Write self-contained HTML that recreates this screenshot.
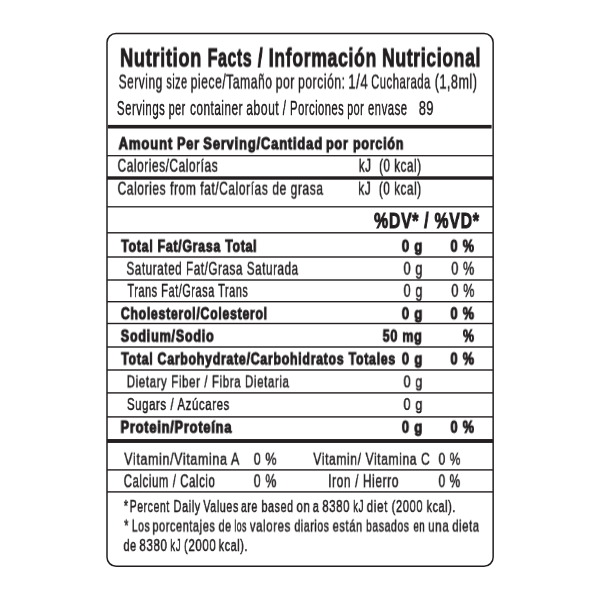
<!DOCTYPE html>
<html><head><meta charset="utf-8"><style>
html,body{margin:0;padding:0;background:#fff;}
body{width:600px;height:600px;position:relative;overflow:hidden;}
.t{position:absolute;left:0;top:0;will-change:transform;white-space:pre;font-family:"Liberation Sans",sans-serif;color:#231f20;transform-origin:0 0;}
.r{position:absolute;background:#231f20;}
span.m{display:inline-block;width:0;height:0;}
#box{position:absolute;border:1.5px solid #231f20;border-radius:10px;box-sizing:border-box;}
</style></head><body>
<svg id="lines" width="600" height="600" viewBox="0 0 600 600" style="position:absolute;left:0;top:0"><rect x="107.00" y="33.50" width="386.15" height="532.75" rx="9.0" ry="9.0" fill="none" stroke="#231f20" stroke-width="1.50"/><rect x="107.80" y="124.90" width="383.80" height="3.60" fill="#231f20"/><rect x="107.00" y="155.05" width="386.00" height="1.30" fill="#231f20"/><rect x="107.00" y="176.30" width="386.00" height="3.40" fill="#231f20"/><rect x="107.00" y="206.15" width="386.00" height="1.30" fill="#231f20"/><rect x="107.00" y="232.10" width="386.00" height="1.40" fill="#231f20"/><rect x="107.00" y="256.30" width="386.00" height="1.40" fill="#231f20"/><rect x="107.00" y="279.30" width="386.00" height="1.40" fill="#231f20"/><rect x="107.00" y="301.00" width="386.00" height="1.40" fill="#231f20"/><rect x="107.00" y="322.80" width="386.00" height="1.40" fill="#231f20"/><rect x="107.00" y="346.30" width="386.00" height="1.40" fill="#231f20"/><rect x="107.00" y="369.30" width="386.00" height="1.40" fill="#231f20"/><rect x="107.00" y="392.20" width="386.00" height="1.40" fill="#231f20"/><rect x="107.00" y="416.20" width="386.00" height="1.40" fill="#231f20"/><rect x="107.00" y="439.05" width="386.00" height="3.90" fill="#231f20"/><rect x="107.00" y="469.20" width="386.00" height="1.40" fill="#231f20"/><rect x="107.00" y="491.20" width="386.00" height="1.40" fill="#231f20"/></svg>
<div class="t" id="t1_0" style="font-size:26.309px;line-height:26.309px;font-weight:700;transform:translate(120.05px,44.55px) scaleX(0.6911);letter-spacing:1.000px;-webkit-text-stroke:1.00px #231f20;">Nutrition</div>
<div class="t" id="t1_1" style="font-size:26.309px;line-height:26.309px;font-weight:700;transform:translate(207.70px,44.55px) scaleX(0.6053);letter-spacing:1.000px;-webkit-text-stroke:1.00px #231f20;">Facts</div>
<div class="t" id="t1_2" style="font-size:26.309px;line-height:26.309px;font-weight:700;transform:translate(257.74px,44.55px) scaleX(0.6785);letter-spacing:1.000px;-webkit-text-stroke:1.00px #231f20;">/</div>
<div class="t" id="t1_3" style="font-size:26.309px;line-height:26.309px;font-weight:700;transform:translate(268.74px,44.55px) scaleX(0.6699);letter-spacing:1.000px;-webkit-text-stroke:1.00px #231f20;">Información</div>
<div class="t" id="t1_4" style="font-size:26.309px;line-height:26.309px;font-weight:700;transform:translate(382.05px,44.55px) scaleX(0.6675);letter-spacing:1.000px;-webkit-text-stroke:1.00px #231f20;">Nutricional</div>
<div class="t" id="t2_0" style="font-size:20.495px;line-height:20.495px;font-weight:400;transform:translate(118.68px,71.55px) scaleX(0.5812);letter-spacing:0.900px;-webkit-text-stroke:0.50px #231f20;">Serving</div>
<div class="t" id="t2_1" style="font-size:20.495px;line-height:20.495px;font-weight:400;transform:translate(166.34px,71.55px) scaleX(0.5299);letter-spacing:0.900px;-webkit-text-stroke:0.50px #231f20;">size</div>
<div class="t" id="t2_2" style="font-size:20.495px;line-height:20.495px;font-weight:400;transform:translate(190.68px,71.55px) scaleX(0.5916);letter-spacing:0.900px;-webkit-text-stroke:0.50px #231f20;">piece/Tamaño</div>
<div class="t" id="t2_3" style="font-size:20.495px;line-height:20.495px;font-weight:400;transform:translate(275.68px,71.55px) scaleX(0.5983);letter-spacing:0.900px;-webkit-text-stroke:0.50px #231f20;">por</div>
<div class="t" id="t2_4" style="font-size:20.495px;line-height:20.495px;font-weight:400;transform:translate(297.99px,71.55px) scaleX(0.5927);letter-spacing:0.900px;-webkit-text-stroke:0.50px #231f20;">porción:</div>
<div class="t" id="t2_5" style="font-size:20.495px;line-height:20.495px;font-weight:400;transform:translate(348.17px,71.55px) scaleX(0.6454);letter-spacing:0.900px;-webkit-text-stroke:0.50px #231f20;">1/4</div>
<div class="t" id="t2_6" style="font-size:20.495px;line-height:20.495px;font-weight:400;transform:translate(371.09px,71.55px) scaleX(0.5510);letter-spacing:0.900px;-webkit-text-stroke:0.50px #231f20;">Cucharada</div>
<div class="t" id="t2_7" style="font-size:20.495px;line-height:20.495px;font-weight:400;transform:translate(434.75px,71.55px) scaleX(0.6116);letter-spacing:0.900px;-webkit-text-stroke:0.50px #231f20;">(1,8ml)</div>
<div class="t" id="t3_0" style="font-size:21.003px;line-height:21.003px;font-weight:400;transform:translate(116.92px,97.00px) scaleX(0.5444);letter-spacing:0.900px;-webkit-text-stroke:0.50px #231f20;">Servings</div>
<div class="t" id="t3_1" style="font-size:21.003px;line-height:21.003px;font-weight:400;transform:translate(168.72px,97.00px) scaleX(0.5122);letter-spacing:0.900px;-webkit-text-stroke:0.50px #231f20;">per</div>
<div class="t" id="t3_2" style="font-size:21.003px;line-height:21.003px;font-weight:400;transform:translate(190.00px,97.00px) scaleX(0.5615);letter-spacing:0.900px;-webkit-text-stroke:0.50px #231f20;">container</div>
<div class="t" id="t3_3" style="font-size:21.003px;line-height:21.003px;font-weight:400;transform:translate(246.19px,97.00px) scaleX(0.5792);letter-spacing:0.900px;-webkit-text-stroke:0.50px #231f20;">about</div>
<div class="t" id="t3_4" style="font-size:21.003px;line-height:21.003px;font-weight:400;transform:translate(282.67px,97.00px) scaleX(0.5599);letter-spacing:0.900px;-webkit-text-stroke:0.50px #231f20;">/</div>
<div class="t" id="t3_5" style="font-size:21.003px;line-height:21.003px;font-weight:400;transform:translate(290.06px,97.00px) scaleX(0.5337);letter-spacing:0.900px;-webkit-text-stroke:0.50px #231f20;">Porciones</div>
<div class="t" id="t3_6" style="font-size:21.003px;line-height:21.003px;font-weight:400;transform:translate(347.15px,97.00px) scaleX(0.5143);letter-spacing:0.900px;-webkit-text-stroke:0.50px #231f20;">por</div>
<div class="t" id="t3_7" style="font-size:21.003px;line-height:21.003px;font-weight:400;transform:translate(367.93px,97.00px) scaleX(0.5419);letter-spacing:0.900px;-webkit-text-stroke:0.50px #231f20;">envase</div>
<div class="t" id="t3b" style="font-size:21.003px;line-height:21.003px;font-weight:400;transform:translate(418.84px,97.00px) scaleX(0.6007);letter-spacing:0.900px;-webkit-text-stroke:0.50px #231f20;">89</div>
<div class="t" id="t4_0" style="font-size:16.352px;line-height:16.352px;font-weight:700;transform:translate(118.59px,135.25px) scaleX(0.8043);letter-spacing:1.000px;-webkit-text-stroke:1.00px #231f20;">Amount</div>
<div class="t" id="t4_1" style="font-size:16.352px;line-height:16.352px;font-weight:700;transform:translate(176.99px,135.25px) scaleX(0.7754);letter-spacing:1.000px;-webkit-text-stroke:1.00px #231f20;">Per</div>
<div class="t" id="t4_2" style="font-size:16.352px;line-height:16.352px;font-weight:700;transform:translate(203.22px,135.25px) scaleX(0.7958);letter-spacing:1.000px;-webkit-text-stroke:1.00px #231f20;">Serving/Cantidad</div>
<div class="t" id="t4_3" style="font-size:16.352px;line-height:16.352px;font-weight:700;transform:translate(325.93px,135.25px) scaleX(0.7717);letter-spacing:1.000px;-webkit-text-stroke:1.00px #231f20;">por</div>
<div class="t" id="t4_4" style="font-size:16.352px;line-height:16.352px;font-weight:700;transform:translate(352.94px,135.25px) scaleX(0.7641);letter-spacing:1.000px;-webkit-text-stroke:1.00px #231f20;">porción</div>
<div class="t" id="t5" style="font-size:17.733px;line-height:17.733px;font-weight:400;transform:translate(117.63px,157.75px) scaleX(0.6647);letter-spacing:0.900px;-webkit-text-stroke:0.50px #231f20;">Calories/Calorías</div>
<div class="t" id="t5b" style="font-size:17.733px;line-height:17.733px;font-weight:400;transform:translate(358.80px,157.75px) scaleX(0.6508);letter-spacing:0.900px;-webkit-text-stroke:0.50px #231f20;">kJ  (0 kcal)</div>
<div class="t" id="t6" style="font-size:17.588px;line-height:17.588px;font-weight:400;transform:translate(117.65px,180.65px) scaleX(0.6770);letter-spacing:0.900px;-webkit-text-stroke:0.50px #231f20;">Calories from fat/Calorías de grasa</div>
<div class="t" id="t6b" style="font-size:17.588px;line-height:17.588px;font-weight:400;transform:translate(358.34px,180.65px) scaleX(0.6616);letter-spacing:0.900px;-webkit-text-stroke:0.50px #231f20;">kJ  (0 kcal)</div>
<div class="t" id="t7" style="font-size:22.457px;line-height:22.457px;font-weight:700;transform:translate(374.07px,209.95px) scaleX(0.7063);letter-spacing:1.000px;-webkit-text-stroke:1.00px #231f20;">%DV* / %VD*</div>
<div class="t" id="r1" style="font-size:16.788px;line-height:16.788px;font-weight:700;transform:translate(121.24px,238.70px) scaleX(0.7344);letter-spacing:1.000px;-webkit-text-stroke:1.00px #231f20;">Total Fat/Grasa Total</div>
<div class="t" id="r1g" style="font-size:16.788px;line-height:16.788px;font-weight:700;transform:translate(401.76px,238.70px) scaleX(0.7844);letter-spacing:1.000px;-webkit-text-stroke:1.00px #231f20;">0 g</div>
<div class="t" id="r1p" style="font-size:16.788px;line-height:16.788px;font-weight:700;transform:translate(450.50px,238.70px) scaleX(0.7598);letter-spacing:1.000px;-webkit-text-stroke:1.00px #231f20;">0 %</div>
<div class="t" id="r2" style="font-size:17.951px;line-height:17.951px;font-weight:400;transform:translate(126.46px,260.75px) scaleX(0.6487);letter-spacing:0.900px;-webkit-text-stroke:0.50px #231f20;">Saturated Fat/Grasa Saturada</div>
<div class="t" id="r2g" style="font-size:17.951px;line-height:17.951px;font-weight:400;transform:translate(403.57px,260.75px) scaleX(0.7018);letter-spacing:0.900px;-webkit-text-stroke:0.50px #231f20;">0 g</div>
<div class="t" id="r2p" style="font-size:17.951px;line-height:17.951px;font-weight:400;transform:translate(451.31px,260.75px) scaleX(0.6993);letter-spacing:0.900px;-webkit-text-stroke:0.50px #231f20;">0 %</div>
<div class="t" id="r3" style="font-size:17.588px;line-height:17.588px;font-weight:400;transform:translate(127.44px,282.85px) scaleX(0.6200);letter-spacing:0.900px;-webkit-text-stroke:0.50px #231f20;">Trans Fat/Grasa Trans</div>
<div class="t" id="r3g" style="font-size:17.588px;line-height:17.588px;font-weight:400;transform:translate(403.59px,282.85px) scaleX(0.7161);letter-spacing:0.900px;-webkit-text-stroke:0.50px #231f20;">0 g</div>
<div class="t" id="r3p" style="font-size:17.588px;line-height:17.588px;font-weight:400;transform:translate(451.34px,282.85px) scaleX(0.7155);letter-spacing:0.900px;-webkit-text-stroke:0.50px #231f20;">0 %</div>
<div class="t" id="r4" style="font-size:16.497px;line-height:16.497px;font-weight:700;transform:translate(120.79px,305.25px) scaleX(0.7431);letter-spacing:1.000px;-webkit-text-stroke:1.00px #231f20;">Cholesterol/Colesterol</div>
<div class="t" id="r4g" style="font-size:16.497px;line-height:16.497px;font-weight:700;transform:translate(401.76px,305.25px) scaleX(0.7961);letter-spacing:1.000px;-webkit-text-stroke:1.00px #231f20;">0 g</div>
<div class="t" id="r4p" style="font-size:16.497px;line-height:16.497px;font-weight:700;transform:translate(450.46px,305.25px) scaleX(0.7737);letter-spacing:1.000px;-webkit-text-stroke:1.00px #231f20;">0 %</div>
<div class="t" id="r5" style="font-size:16.715px;line-height:16.715px;font-weight:700;transform:translate(120.69px,328.60px) scaleX(0.7547);letter-spacing:1.000px;-webkit-text-stroke:1.00px #231f20;">Sodium/Sodio</div>
<div class="t" id="r5g" style="font-size:16.715px;line-height:16.715px;font-weight:700;transform:translate(382.67px,328.60px) scaleX(0.7478);letter-spacing:1.000px;-webkit-text-stroke:1.00px #231f20;">50 mg</div>
<div class="t" id="r5p" style="font-size:16.715px;line-height:16.715px;font-weight:700;transform:translate(462.92px,328.60px) scaleX(0.7480);letter-spacing:1.000px;-webkit-text-stroke:1.00px #231f20;">%</div>
<div class="t" id="r6" style="font-size:16.352px;line-height:16.352px;font-weight:700;transform:translate(121.23px,350.50px) scaleX(0.7518);letter-spacing:1.000px;-webkit-text-stroke:1.00px #231f20;">Total Carbohydrate/Carbohidratos Totales</div>
<div class="t" id="r6g" style="font-size:16.352px;line-height:16.352px;font-weight:700;transform:translate(401.80px,350.50px) scaleX(0.7947);letter-spacing:1.000px;-webkit-text-stroke:1.00px #231f20;">0 g</div>
<div class="t" id="r6p" style="font-size:16.352px;line-height:16.352px;font-weight:700;transform:translate(450.46px,350.50px) scaleX(0.7766);letter-spacing:1.000px;-webkit-text-stroke:1.00px #231f20;">0 %</div>
<div class="t" id="r7" style="font-size:16.497px;line-height:16.497px;font-weight:400;transform:translate(126.76px,373.35px) scaleX(0.6955);letter-spacing:0.900px;-webkit-text-stroke:0.50px #231f20;">Dietary Fiber / Fibra Dietaria</div>
<div class="t" id="r7g" style="font-size:16.497px;line-height:16.497px;font-weight:400;transform:translate(403.56px,373.35px) scaleX(0.7606);letter-spacing:0.900px;-webkit-text-stroke:0.50px #231f20;">0 g</div>
<div class="t" id="r8" style="font-size:16.715px;line-height:16.715px;font-weight:400;transform:translate(126.94px,397.00px) scaleX(0.6824);letter-spacing:0.900px;-webkit-text-stroke:0.50px #231f20;">Sugars / Azúcares</div>
<div class="t" id="r8g" style="font-size:16.715px;line-height:16.715px;font-weight:400;transform:translate(403.51px,397.00px) scaleX(0.7542);letter-spacing:0.900px;-webkit-text-stroke:0.50px #231f20;">0 g</div>
<div class="t" id="r9" style="font-size:15.625px;line-height:15.625px;font-weight:700;transform:translate(120.53px,419.75px) scaleX(0.8176);letter-spacing:1.000px;-webkit-text-stroke:1.00px #231f20;">Protein/Proteína</div>
<div class="t" id="r9g" style="font-size:15.625px;line-height:15.625px;font-weight:700;transform:translate(401.83px,419.75px) scaleX(0.8295);letter-spacing:1.000px;-webkit-text-stroke:1.00px #231f20;">0 g</div>
<div class="t" id="r9p" style="font-size:15.625px;line-height:15.625px;font-weight:700;transform:translate(450.51px,419.75px) scaleX(0.8126);letter-spacing:1.000px;-webkit-text-stroke:1.00px #231f20;">0 %</div>
<div class="t" id="v1" style="font-size:17.079px;line-height:17.079px;font-weight:400;transform:translate(124.20px,450.75px) scaleX(0.7288);letter-spacing:0.900px;-webkit-text-stroke:0.50px #231f20;">Vitamin/Vitamina A</div>
<div class="t" id="v1p" style="font-size:17.079px;line-height:17.079px;font-weight:400;transform:translate(253.73px,450.75px) scaleX(0.7292);letter-spacing:0.900px;-webkit-text-stroke:0.50px #231f20;">0 %</div>
<div class="t" id="v2" style="font-size:17.079px;line-height:17.079px;font-weight:400;transform:translate(313.32px,450.75px) scaleX(0.7038);letter-spacing:0.900px;-webkit-text-stroke:0.50px #231f20;">Vitamin/ Vitamina C</div>
<div class="t" id="v2p" style="font-size:17.079px;line-height:17.079px;font-weight:400;transform:translate(438.56px,450.75px) scaleX(0.6981);letter-spacing:0.900px;-webkit-text-stroke:0.50px #231f20;">0 %</div>
<div class="t" id="v3" style="font-size:17.442px;line-height:17.442px;font-weight:400;transform:translate(123.76px,473.25px) scaleX(0.6528);letter-spacing:0.900px;-webkit-text-stroke:0.50px #231f20;">Calcium / Calcio</div>
<div class="t" id="v3p" style="font-size:17.442px;line-height:17.442px;font-weight:400;transform:translate(253.74px,473.25px) scaleX(0.7097);letter-spacing:0.900px;-webkit-text-stroke:0.50px #231f20;">0 %</div>
<div class="t" id="v4" style="font-size:17.442px;line-height:17.442px;font-weight:400;transform:translate(328.14px,473.25px) scaleX(0.6823);letter-spacing:0.900px;-webkit-text-stroke:0.50px #231f20;">Iron / Hierro</div>
<div class="t" id="v4p" style="font-size:17.442px;line-height:17.442px;font-weight:400;transform:translate(438.55px,473.25px) scaleX(0.6791);letter-spacing:0.900px;-webkit-text-stroke:0.50px #231f20;">0 %</div>
<div class="t" id="f1_0" style="font-size:15.989px;line-height:15.989px;font-weight:400;transform:translate(123.80px,499.05px) scaleX(0.6878);letter-spacing:0.900px;-webkit-text-stroke:0.50px #231f20;">*</div>
<div class="t" id="f1_1" style="font-size:15.989px;line-height:15.989px;font-weight:400;transform:translate(129.71px,499.05px) scaleX(0.6532);letter-spacing:0.900px;-webkit-text-stroke:0.50px #231f20;">Percent</div>
<div class="t" id="f1_2" style="font-size:15.989px;line-height:15.989px;font-weight:400;transform:translate(173.53px,499.05px) scaleX(0.6839);letter-spacing:0.900px;-webkit-text-stroke:0.50px #231f20;">Daily</div>
<div class="t" id="f1_3" style="font-size:15.989px;line-height:15.989px;font-weight:400;transform:translate(203.33px,499.05px) scaleX(0.6704);letter-spacing:0.900px;-webkit-text-stroke:0.50px #231f20;">Values</div>
<div class="t" id="f1_4" style="font-size:15.989px;line-height:15.989px;font-weight:400;transform:translate(240.97px,499.05px) scaleX(0.6534);letter-spacing:0.900px;-webkit-text-stroke:0.50px #231f20;">are</div>
<div class="t" id="f1_5" style="font-size:15.989px;line-height:15.989px;font-weight:400;transform:translate(261.52px,499.05px) scaleX(0.6686);letter-spacing:0.900px;-webkit-text-stroke:0.50px #231f20;">based</div>
<div class="t" id="f1_6" style="font-size:15.989px;line-height:15.989px;font-weight:400;transform:translate(296.51px,499.05px) scaleX(0.7122);letter-spacing:0.900px;-webkit-text-stroke:0.50px #231f20;">on</div>
<div class="t" id="f1_7" style="font-size:15.989px;line-height:15.989px;font-weight:400;transform:translate(312.74px,499.05px) scaleX(0.6878);letter-spacing:0.900px;-webkit-text-stroke:0.50px #231f20;">a</div>
<div class="t" id="f1_8" style="font-size:15.989px;line-height:15.989px;font-weight:400;transform:translate(322.28px,499.05px) scaleX(0.7121);letter-spacing:0.900px;-webkit-text-stroke:0.50px #231f20;">8380</div>
<div class="t" id="f1_9" style="font-size:15.989px;line-height:15.989px;font-weight:400;transform:translate(353.11px,499.05px) scaleX(0.6055);letter-spacing:0.900px;-webkit-text-stroke:0.50px #231f20;">kJ</div>
<div class="t" id="f1_10" style="font-size:15.989px;line-height:15.989px;font-weight:400;transform:translate(366.69px,499.05px) scaleX(0.7253);letter-spacing:0.900px;-webkit-text-stroke:0.50px #231f20;">diet</div>
<div class="t" id="f1_11" style="font-size:15.989px;line-height:15.989px;font-weight:400;transform:translate(391.62px,499.05px) scaleX(0.6965);letter-spacing:0.900px;-webkit-text-stroke:0.50px #231f20;">(2000</div>
<div class="t" id="f1_12" style="font-size:15.989px;line-height:15.989px;font-weight:400;transform:translate(426.62px,499.05px) scaleX(0.6709);letter-spacing:0.900px;-webkit-text-stroke:0.50px #231f20;">kcal).</div>
<div class="t" id="f2_0" style="font-size:15.698px;line-height:15.698px;font-weight:400;transform:translate(124.15px,518.55px) scaleX(0.6981);letter-spacing:0.900px;-webkit-text-stroke:0.50px #231f20;">*</div>
<div class="t" id="f2_1" style="font-size:15.698px;line-height:15.698px;font-weight:400;transform:translate(131.82px,518.55px) scaleX(0.6606);letter-spacing:0.900px;-webkit-text-stroke:0.50px #231f20;">Los</div>
<div class="t" id="f2_2" style="font-size:15.698px;line-height:15.698px;font-weight:400;transform:translate(152.48px,518.55px) scaleX(0.6914);letter-spacing:0.900px;-webkit-text-stroke:0.50px #231f20;">porcentajes</div>
<div class="t" id="f2_3" style="font-size:15.698px;line-height:15.698px;font-weight:400;transform:translate(218.59px,518.55px) scaleX(0.6867);letter-spacing:0.900px;-webkit-text-stroke:0.50px #231f20;">de</div>
<div class="t" id="f2_4" style="font-size:15.698px;line-height:15.698px;font-weight:400;transform:translate(234.24px,518.55px) scaleX(0.5546);letter-spacing:0.900px;-webkit-text-stroke:0.50px #231f20;">los</div>
<div class="t" id="f2_5" style="font-size:15.698px;line-height:15.698px;font-weight:400;transform:translate(249.84px,518.55px) scaleX(0.7213);letter-spacing:0.900px;-webkit-text-stroke:0.50px #231f20;">valores</div>
<div class="t" id="f2_6" style="font-size:15.698px;line-height:15.698px;font-weight:400;transform:translate(294.44px,518.55px) scaleX(0.6685);letter-spacing:0.900px;-webkit-text-stroke:0.50px #231f20;">diarios</div>
<div class="t" id="f2_7" style="font-size:15.698px;line-height:15.698px;font-weight:400;transform:translate(332.64px,518.55px) scaleX(0.7033);letter-spacing:0.900px;-webkit-text-stroke:0.50px #231f20;">están</div>
<div class="t" id="f2_8" style="font-size:15.698px;line-height:15.698px;font-weight:400;transform:translate(366.04px,518.55px) scaleX(0.6644);letter-spacing:0.900px;-webkit-text-stroke:0.50px #231f20;">basados</div>
<div class="t" id="f2_9" style="font-size:15.698px;line-height:15.698px;font-weight:400;transform:translate(413.51px,518.55px) scaleX(0.6057);letter-spacing:0.900px;-webkit-text-stroke:0.50px #231f20;">en</div>
<div class="t" id="f2_10" style="font-size:15.698px;line-height:15.698px;font-weight:400;transform:translate(428.07px,518.55px) scaleX(0.7400);letter-spacing:0.900px;-webkit-text-stroke:0.50px #231f20;">una</div>
<div class="t" id="f2_11" style="font-size:15.698px;line-height:15.698px;font-weight:400;transform:translate(452.31px,518.55px) scaleX(0.7065);letter-spacing:0.900px;-webkit-text-stroke:0.50px #231f20;">dieta</div>
<div class="t" id="f3_0" style="font-size:15.989px;line-height:15.989px;font-weight:400;transform:translate(123.54px,538.05px) scaleX(0.6732);letter-spacing:0.900px;-webkit-text-stroke:0.50px #231f20;">de</div>
<div class="t" id="f3_1" style="font-size:15.989px;line-height:15.989px;font-weight:400;transform:translate(139.40px,538.05px) scaleX(0.7215);letter-spacing:0.900px;-webkit-text-stroke:0.50px #231f20;">8380</div>
<div class="t" id="f3_2" style="font-size:15.989px;line-height:15.989px;font-weight:400;transform:translate(170.13px,538.05px) scaleX(0.6243);letter-spacing:0.900px;-webkit-text-stroke:0.50px #231f20;">kJ</div>
<div class="t" id="f3_3" style="font-size:15.989px;line-height:15.989px;font-weight:400;transform:translate(183.92px,538.05px) scaleX(0.7164);letter-spacing:0.900px;-webkit-text-stroke:0.50px #231f20;">(2000</div>
<div class="t" id="f3_4" style="font-size:15.989px;line-height:15.989px;font-weight:400;transform:translate(218.68px,538.05px) scaleX(0.6733);letter-spacing:0.900px;-webkit-text-stroke:0.50px #231f20;">kcal).</div>
</body></html>
